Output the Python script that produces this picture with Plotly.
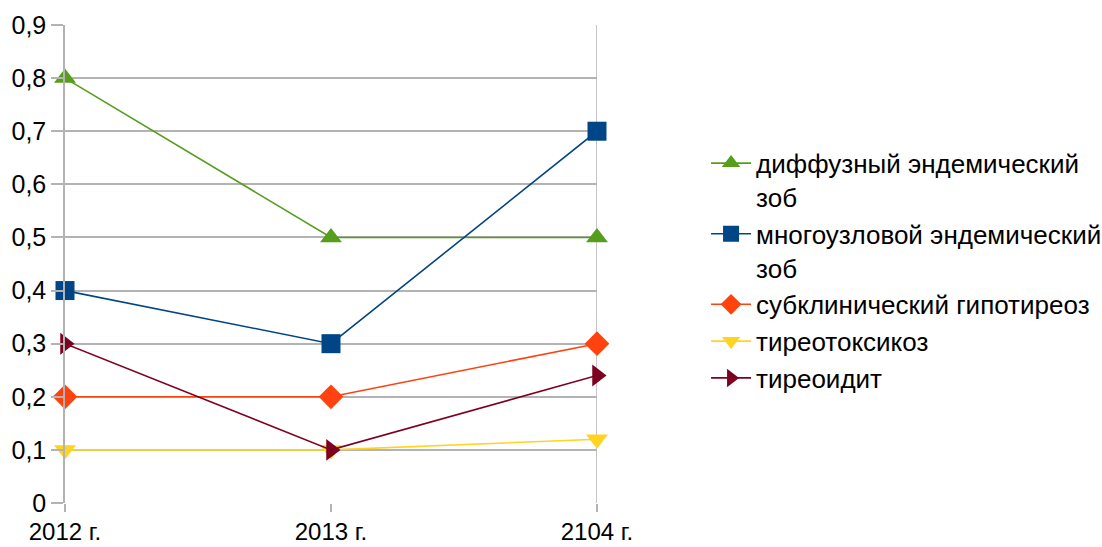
import plotly.graph_objects as go

# Categories (years) and series values
years = ["2012 г.", "2013 г.", "2104 г."]

diffuse_goiter = [0.8, 0.5, 0.5]
multinodular_goiter = [0.4, 0.3, 0.7]
subclinical_hypothyroidism = [0.2, 0.2, 0.3]
thyrotoxicosis = [0.1, 0.1, 0.12]
thyroiditis = [0.3, 0.1, 0.24]

series_names = [
    "диффузный эндемический<br>зоб",
    "многоузловой эндемический<br>зоб",
    "субклинический гипотиреоз",
    "тиреотоксикоз",
    "тиреоидит",
]
series_values = [
    diffuse_goiter,
    multinodular_goiter,
    subclinical_hypothyroidism,
    thyrotoxicosis,
    thyroiditis,
]
series_colors = ["#579d1c", "#004586", "#ff420e", "#ffd320", "#7e0021"]
series_symbols = ["triangle-up", "square", "diamond", "triangle-down", "triangle-right"]

y_ticks = [0, 0.1, 0.2, 0.3, 0.4, 0.5, 0.6, 0.7, 0.8, 0.9]

FONT = "Liberation Sans, Arial, sans-serif"
FONT_SIZE = 26
GRID = "#b3b3b3"

fig = go.Figure()
for name, vals, color, sym in zip(series_names, series_values, series_colors, series_symbols):
    fig.add_trace(go.Scatter(
        x=years,
        y=vals,
        name=name,
        mode="lines+markers",
        line=dict(color=color, width=1.6),
        marker=dict(symbol=sym, size=19, color=color),
        cliponaxis=False,
    ))

# right-hand boundary line of the plot area
fig.add_shape(type="line", xref="x", yref="y", x0=2, x1=2, y0=0, y1=0.9,
              line=dict(color=GRID, width=1.5), layer="below")

fig.update_layout(
    width=1102,
    height=547,
    margin=dict(l=65, r=505, t=25, b=44, autoexpand=False),
    paper_bgcolor="white",
    plot_bgcolor="white",
    separators=", ",
    font=dict(family=FONT, size=FONT_SIZE, color="#000000"),
    showlegend=True,
    legend=dict(
        x=1.205, xanchor="left",
        y=0.76, yanchor="top",
        valign="top",
        font=dict(family=FONT, size=FONT_SIZE, color="#000000"),
        bgcolor="rgba(0,0,0,0)",
        itemwidth=40,
        tracegroupgap=0,
    ),
    xaxis=dict(
        type="category",
        range=[0, 2],
        automargin=False,
        showgrid=False,
        showline=False,
        zeroline=False,
        ticks="outside",
        ticklen=8,
        tickwidth=1.5,
        tickcolor=GRID,
        ticklabelstandoff=-1,
        tickfont=dict(family=FONT, size=24, color="#000000"),
        fixedrange=True,
    ),
    yaxis=dict(
        range=[0, 0.9],
        tickvals=y_ticks,
        automargin=False,
        showgrid=True,
        gridcolor=GRID,
        gridwidth=1.5,
        showline=True,
        linecolor=GRID,
        linewidth=1.5,
        zeroline=False,
        ticks="outside",
        ticklen=12,
        tickwidth=1.5,
        tickcolor=GRID,
        tickfont=dict(family=FONT, size=25, color="#000000"),
        fixedrange=True,
    ),
)

fig.write_html("out.html")
